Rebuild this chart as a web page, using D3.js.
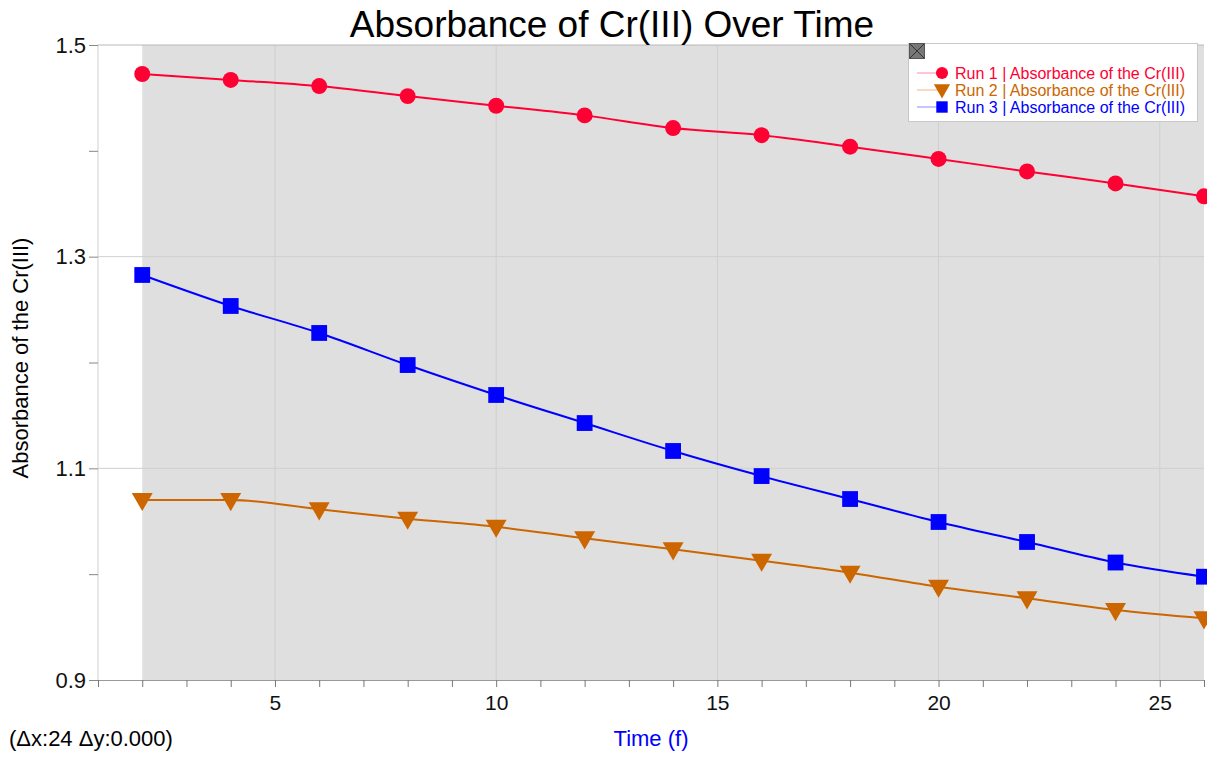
<!DOCTYPE html>
<html><head><meta charset="utf-8">
<script src="https://cdn.jsdelivr.net/npm/d3@7/dist/d3.min.js"></script>
<style>
body{margin:0;background:#fff;}
text{font-family:"Liberation Sans",Arial,sans-serif;}
</style></head>
<body>
<svg id="chart" width="1207" height="757"></svg>
<script>
const timeValues = [2,4,6,8,10,12,14,16,18,20,22,24,26];
const run1 = [1.4726,1.4670,1.4612,1.4517,1.4426,1.4335,1.4215,1.4148,1.4039,1.3923,1.3805,1.3692,1.3570];
const run2 = [1.0701,1.0700,1.0613,1.0524,1.0448,1.0339,1.0235,1.0127,1.0014,0.9881,0.9772,0.9661,0.9583];
const run3 = [1.2827,1.2534,1.2279,1.1976,1.1693,1.1428,1.1164,1.0927,1.0710,1.0493,1.0304,1.0110,0.9976];
const seriesNames = ["Run 1 | Absorbance of the Cr(III)","Run 2 | Absorbance of the Cr(III)","Run 3 | Absorbance of the Cr(III)"];
const seriesColors = ["#ff0033","#cc6600","#0000ff"];
const legendLineColors = ["#ffb3c2","#f0cfae","#b3b3ff"];
const xTickLabels = [5,10,15,20,25];
const yTickLabels = [0.9,1.1,1.3,1.5];

const svg = d3.select("#chart");
const L=98, R=1204, T=45, B=680;
const x = d3.scaleLinear().domain([1,26]).range([L,R]);
const y = d3.scaleLinear().domain([0.9,1.5]).range([B,T]);

// selection shading
svg.append("rect").attr("x",x(timeValues[0])).attr("y",T)
  .attr("width",x(timeValues[timeValues.length-1])-x(timeValues[0])).attr("height",B-T)
  .attr("fill","#dfdfdf");

// gridlines
const g = svg.append("g");
g.selectAll(".vg").data(xTickLabels).join("line")
  .attr("x1",d=>x(d)).attr("x2",d=>x(d)).attr("y1",T).attr("y2",B)
  .attr("stroke","#cfcfcf").attr("stroke-width",1);
g.selectAll(".hg").data([1.1,1.3,1.5]).join("line")
  .attr("x1",L).attr("x2",R).attr("y1",d=>y(d)).attr("y2",d=>y(d))
  .attr("stroke",(d,i)=>d===1.5?"#b8b8b8":"#cfcfcf").attr("stroke-width",1);
g.append("line").attr("x1",L).attr("x2",L).attr("y1",T).attr("y2",B).attr("stroke","#cfcfcf");

// x axis
const xAxis = d3.axisBottom(x).tickValues(d3.range(1,27)).tickSize(7)
  .tickFormat(d=>xTickLabels.includes(d)?d:"");
const xa = svg.append("g").attr("transform",`translate(0,${B})`).call(xAxis);
xa.select(".domain").attr("stroke","#999");
xa.selectAll(".tick line").attr("stroke","#777");
xa.selectAll(".tick text").attr("font-size",21).attr("fill","#111").attr("dy","0.95em")
  .attr("font-family","Liberation Sans, Arial, sans-serif");

// y axis
const yAxis = d3.axisLeft(y).tickValues([0.9,1.0,1.1,1.2,1.3,1.4,1.5]).tickSize(9)
  .tickFormat(d=>yTickLabels.some(v=>Math.abs(v-d)<1e-9)?d3.format(".1f")(d):"");
const ya = svg.append("g").attr("transform",`translate(${L},0)`).call(yAxis);
ya.select(".domain").remove();
ya.selectAll(".tick line").attr("stroke","#888");
ya.selectAll(".tick text").attr("font-size",22).attr("fill","#111").attr("x",-12)
  .attr("font-family","Liberation Sans, Arial, sans-serif");

// lines & markers
const allRuns=[run1,run2,run3];
const line = d3.line().x((d,i)=>x(timeValues[i])).y(d=>y(d)).curve(d3.curveMonotoneX);
const clip = svg.append("clipPath").attr("id","clip").append("rect")
  .attr("x",L).attr("y",T-12).attr("width",R-L+3).attr("height",B-T+24);
const plot = svg.append("g").attr("clip-path","url(#clip)");
allRuns.forEach((run,k)=>{
  plot.append("path").datum(run).attr("d",line).attr("fill","none")
    .attr("stroke",seriesColors[k]).attr("stroke-width",2);
});
const sym = [d3.symbolCircle, d3.symbolTriangle, d3.symbolSquare];
const symSize=[200,190,250];
allRuns.forEach((run,k)=>{
  plot.selectAll(".m"+k).data(run).join("path")
    .attr("d",d3.symbol().type(sym[k]).size(symSize[k]))
    .attr("transform",(d,i)=>`translate(${x(timeValues[i])},${y(d)+(k===1?-1:0)})${k===1?" rotate(180)":""}`)
    .attr("fill",seriesColors[k]);
});

// title
svg.append("text").attr("x",612).attr("y",37).attr("text-anchor","middle")
  .attr("font-size",37).attr("fill","#000").text("Absorbance of Cr(III) Over Time");
// axis labels
svg.append("text").attr("transform","translate(28,358) rotate(-90)").attr("text-anchor","middle")
  .attr("font-size",22).attr("fill","#000").text("Absorbance of the Cr(III)");
svg.append("text").attr("x",651).attr("y",746).attr("text-anchor","middle")
  .attr("font-size",22).attr("fill","#0000ff").text("Time (f)");
svg.append("text").attr("x",9).attr("y",746)
  .attr("font-size",22).attr("fill","#000").text("(\u0394x:24 \u0394y:0.000)");

// legend
const lg = svg.append("g");
lg.append("rect").attr("x",908.5).attr("y",43.5).attr("width",289).attr("height",78)
  .attr("fill","#fff").attr("stroke","#c8c8c8");
lg.append("rect").attr("x",909.5).attr("y",43.5).attr("width",15).attr("height",15)
  .attr("fill","#777").attr("stroke","#555");
lg.append("path").attr("d","M910,44L924,58M924,44L910,58").attr("stroke","#333").attr("stroke-width",1);
seriesNames.forEach((name,k)=>{
  const yy = 73 + k*17;
  lg.append("line").attr("x1",917).attr("x2",941).attr("y1",yy).attr("y2",yy)
    .attr("stroke",legendLineColors[k]).attr("stroke-width",1.5);
  lg.append("path").attr("d",d3.symbol().type(sym[k]).size(k===2?130:115))
    .attr("transform",`translate(942,${yy+(k===1?-1:0)})${k===1?" rotate(180)":""}`)
    .attr("fill",seriesColors[k]);
  lg.append("text").attr("x",955).attr("y",yy+5.5).attr("font-size",16)
    .attr("fill",seriesColors[k]).text(name);
});
</script>
</body></html>
